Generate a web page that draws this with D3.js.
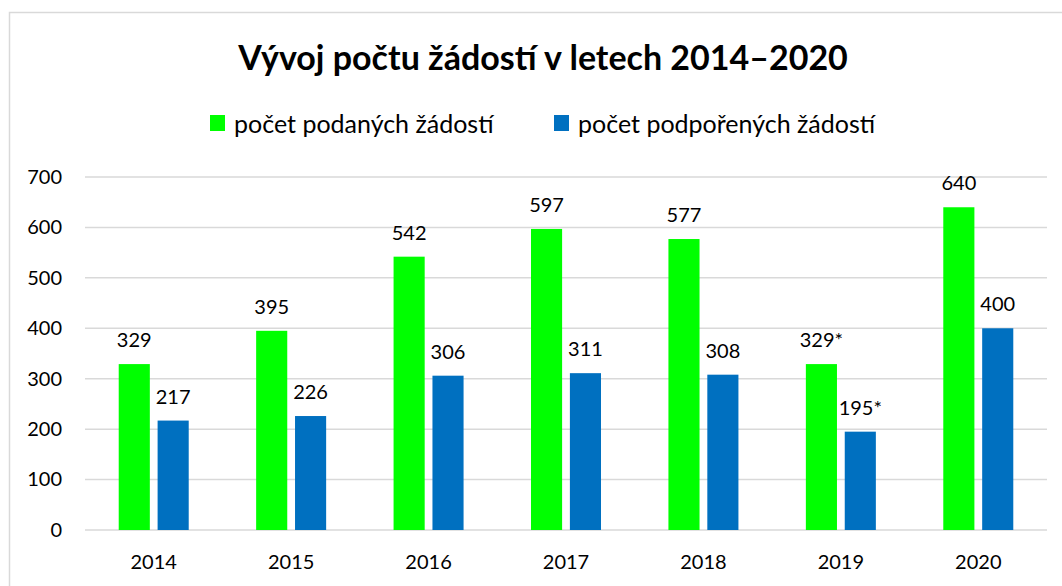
<!DOCTYPE html>
<html>
<head>
<meta charset="utf-8">
<script src="https://cdn.jsdelivr.net/npm/d3@7"></script>
<style>
  body { margin: 0; background: #fff; }
  text { font-family: Lato, "Noto Sans", sans-serif; fill: #000; }
</style>
</head>
<body>
<svg id="drawing_region"></svg>
<script>
// data
var years = ['2014', '2015', '2016', '2017', '2018', '2019', '2020'];
var podane = [329, 395, 542, 597, 577, 329, 640];
var podporene = [217, 226, 306, 311, 308, 195, 400];
// 2019 values are marked with an asterisk
var podaneLabels = ['329', '395', '542', '597', '577', '329*', '640'];
var podporeneLabels = ['217', '226', '306', '311', '308', '195*', '400'];
var seriesNames = ['počet podaných žádostí', 'počet podpořených žádostí'];
var yTicks = [0, 100, 200, 300, 400, 500, 600, 700];
var title = 'Vývoj počtu žádostí v letech 2014–2020';

var colors = ['#00ff00', '#0070c0'];

var config = {
    parent: '#drawing_region',
    width: 1062,
    height: 586,
    margin: {top: 177, right: 15, bottom: 56, left: 85}
};

class GroupedBarChart {

    constructor(config) {
        this.config = config;
        this.init();
    }

    init() {
        let self = this;
        self.svg = d3.select(self.config.parent)
            .attr('width', self.config.width)
            .attr('height', self.config.height);

        // chart area frame (only top and left edges are in view)
        self.svg.append('rect')
            .attr('x', 9.5)
            .attr('y', 12.5)
            .attr('width', 1100)
            .attr('height', 700)
            .attr('fill', 'none')
            .attr('stroke', '#d9d9d9')
            .attr('stroke-width', 1.5);

        self.chart = self.svg.append('g')
            .attr('transform', `translate(${self.config.margin.left}, ${self.config.margin.top})`);

        self.inner_width = self.config.width - self.config.margin.left - self.config.margin.right;
        self.inner_height = self.config.height - self.config.margin.top - self.config.margin.bottom;

        self.xscale = d3.scaleBand()
            .domain(years)
            .range([0, self.inner_width]);

        // two bars, 31px wide with a small gap, centred in each year band
        self.xinner = d3.scaleBand()
            .domain([0, 1])
            .range([-35, 35])
            .paddingInner(0.2);

        self.yscale = d3.scaleLinear()
            .domain([0, 700])
            .range([self.inner_height, 0]);

        self.data = years.map((y, i) => ({
            year: y,
            values: [
                {s: 0, value: podane[i], label: podaneLabels[i]},
                {s: 1, value: podporene[i], label: podporeneLabels[i]}
            ]
        }));
    }

    render() {
        let self = this;

        // gridlines
        self.chart.append('g')
            .selectAll('line')
            .data(yTicks)
            .enter()
            .append('line')
            .attr('x1', 0)
            .attr('x2', self.inner_width)
            .attr('y1', d => self.yscale(d))
            .attr('y2', d => self.yscale(d))
            .attr('stroke', '#d9d9d9')
            .attr('stroke-width', 1.5);

        let yaxis = d3.axisLeft(self.yscale)
            .tickValues(yTicks)
            .tickSize(0)
            .tickPadding(23);
        let yg = self.chart.append('g').call(yaxis);
        yg.select('.domain').remove();
        yg.selectAll('text')
            .attr('font-size', 20)
            .style('font-family', 'Lato, sans-serif');

        let xaxis = d3.axisBottom(self.xscale)
            .tickSize(0)
            .tickPadding(25);
        let xg = self.chart.append('g')
            .attr('transform', `translate(0, ${self.inner_height})`)
            .call(xaxis);
        xg.select('.domain').remove();
        xg.selectAll('text')
            .attr('font-size', 20)
            .style('font-family', 'Lato, sans-serif');

        let groups = self.chart.selectAll('.year')
            .data(self.data)
            .enter()
            .append('g')
            .attr('class', 'year')
            .attr('transform', d => `translate(${self.xscale(d.year) + self.xscale.bandwidth() / 2}, 0)`);

        groups.selectAll('rect')
            .data(d => d.values)
            .enter()
            .append('rect')
            .attr('x', d => self.xinner(d.s))
            .attr('y', d => self.yscale(d.value))
            .attr('width', self.xinner.bandwidth())
            .attr('height', d => self.inner_height - self.yscale(d.value))
            .attr('fill', d => colors[d.s]);

        groups.selectAll('.val')
            .data(d => d.values)
            .enter()
            .append('text')
            .attr('class', 'val')
            .attr('x', d => self.xinner(d.s) + self.xinner.bandwidth() / 2)
            .attr('y', d => self.yscale(d.value) - 17)
            .attr('text-anchor', 'middle')
            .attr('font-size', 20)
            .text(d => d.label);

        // title
        self.svg.append('text')
            .attr('x', 543)
            .attr('y', 70)
            .attr('text-anchor', 'middle')
            .attr('font-size', 34)
            .attr('font-weight', 'bold')
            .text(title);

        // legend
        let legendX = [210, 554];
        let legend = self.svg.selectAll('.legend')
            .data(seriesNames)
            .enter()
            .append('g')
            .attr('class', 'legend')
            .attr('transform', (d, i) => `translate(${legendX[i]}, 0)`);
        legend.append('rect')
            .attr('x', 0)
            .attr('y', 115)
            .attr('width', 15)
            .attr('height', 16)
            .attr('fill', (d, i) => colors[i]);
        legend.append('text')
            .attr('x', 24)
            .attr('y', 133)
            .attr('font-size', 25)
            .text(d => d);
    }
}

const chart = new GroupedBarChart(config);
chart.render();
</script>
</body>
</html>
